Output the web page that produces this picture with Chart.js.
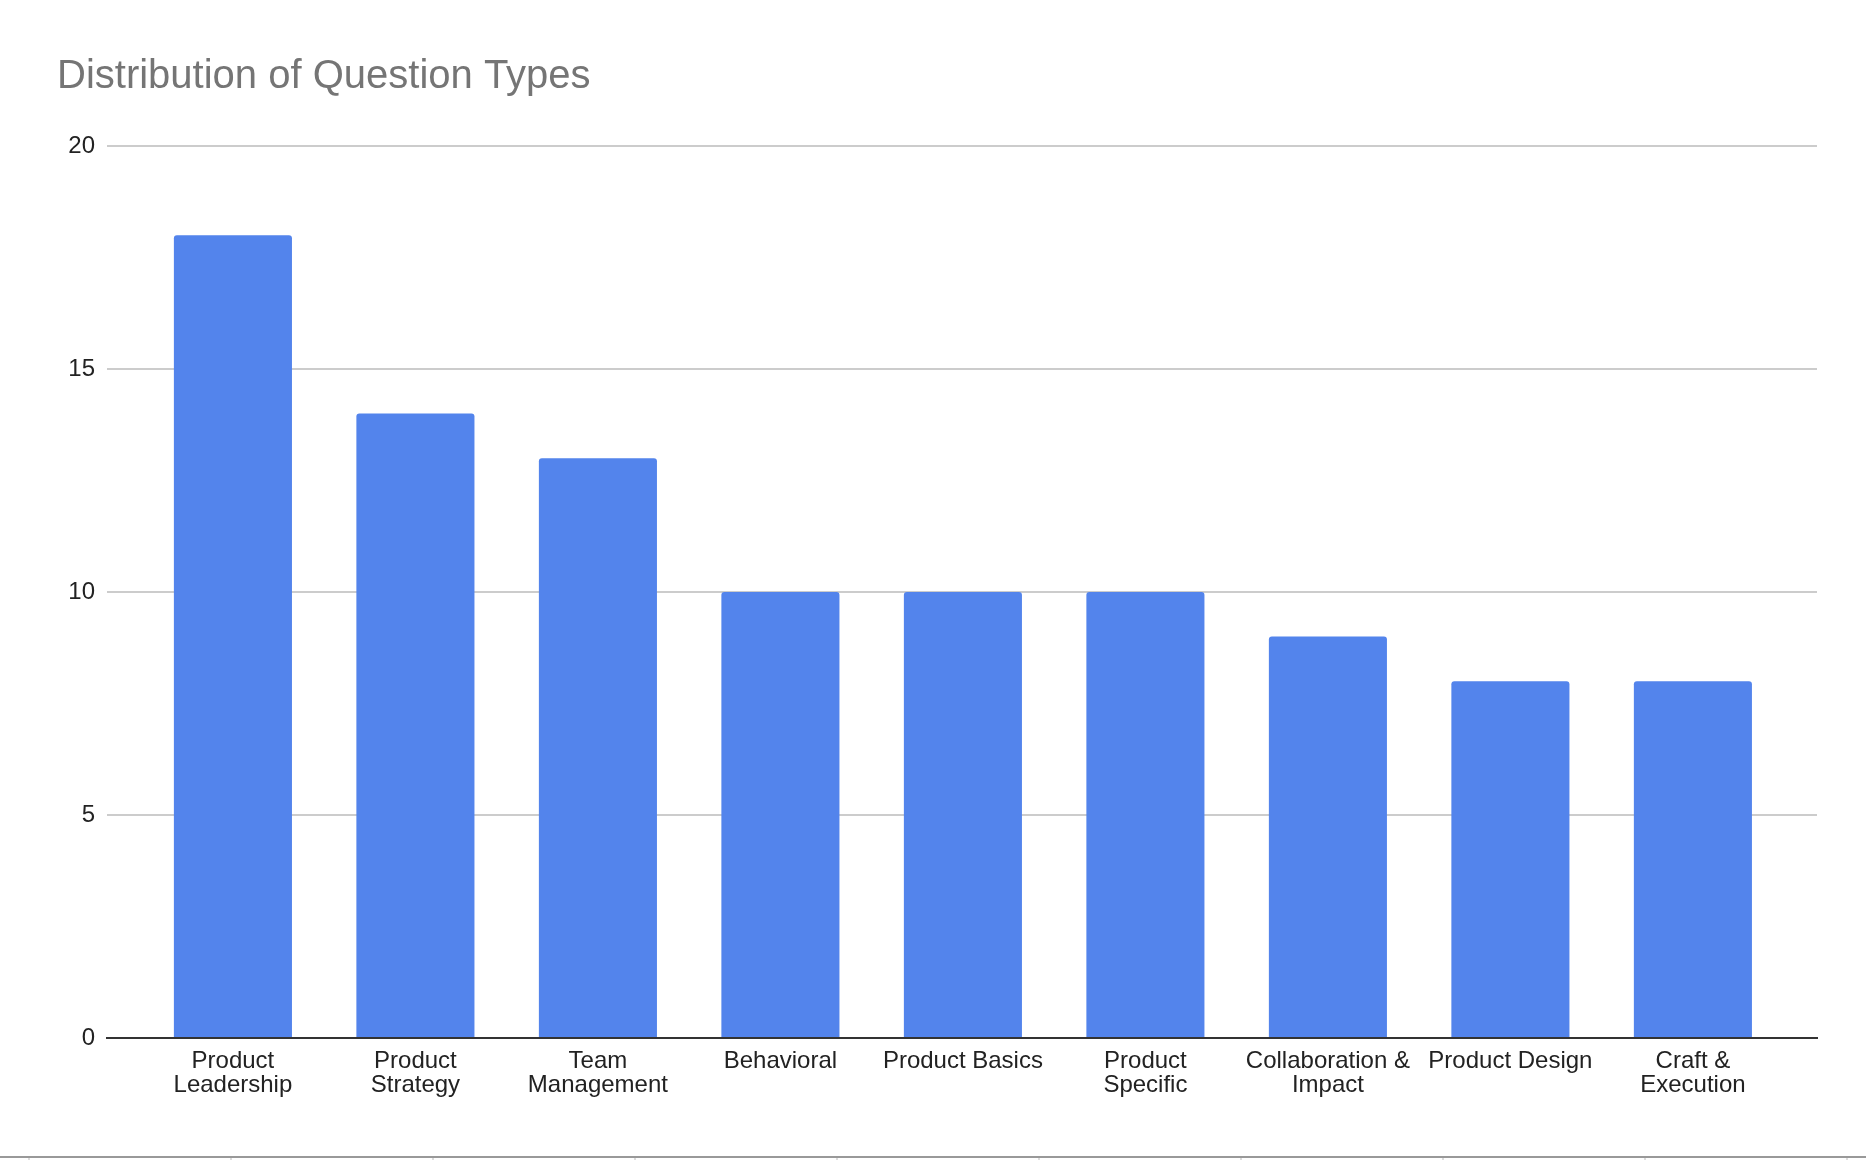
<!DOCTYPE html>
<html>
<head>
<meta charset="utf-8">
<title>Distribution of Question Types</title>
<script src="https://cdn.jsdelivr.net/npm/chart.js@4"></script>
<style>
    html, body { margin: 0; padding: 0; background: #fff; }
    #wrap { position: relative; width: 1866px; height: 1160px; overflow: hidden; }
    #sheet-edge {
        position: absolute; left: 0; top: 1156px; width: 1866px; height: 2px;
        background: #999;
    }
    #sheet-cols {
        position: absolute; left: 0; top: 1158px; width: 1866px; height: 2px;
        background-image: linear-gradient(to right, #ddd 0 2px, transparent 2px);
        background-size: 202px 2px;
        background-position: 28px 0;
        background-repeat: repeat-x;
    }
</style>
</head>
<body>
<div id="wrap">
    <canvas id="chart01"></canvas>
    <div id="sheet-edge"></div>
    <div id="sheet-cols"></div>
</div>
<script>
const categories = [
    'Product Leadership', 'Product Strategy', 'Team Management', 'Behavioral',
    'Product Basics', 'Product Specific', 'Collaboration & Impact',
    'Product Design', 'Craft & Execution'
];

// how the sheet wraps each category label
const tick_labels = [
    ['Product', 'Leadership'], ['Product', 'Strategy'], ['Team', 'Management'],
    ['Behavioral'], ['Product Basics'], ['Product', 'Specific'],
    ['Collaboration &', 'Impact'], ['Product Design'], ['Craft &', 'Execution']
];

const question_counts = [18, 14, 13, 10, 10, 10, 9, 8, 8];

const y_ticks = [0, 5, 10, 15, 20];

(function () {

    Chart.defaults.font.family = '"Liberation Sans", Arial, sans-serif';

    const questions = {
        label: 'Questions',
        data: question_counts.map((v, i) => ({x: i, y: v})),
        backgroundColor: '#5384ec',
        borderWidth: 0,
        borderRadius: {topLeft: 3, topRight: 3, bottomLeft: 0, bottomRight: 0},
        borderSkipped: 'start',
        categoryPercentage: 1.0,
        barPercentage: 0.647
    };

    const options = {
        responsive: true,
        maintainAspectRatio: false,
        animation: false,
        layout: {
            padding: {left: 57, right: 49, top: 0, bottom: 52}
        },
        plugins: {
            legend: {display: false},
            tooltip: {enabled: false},
            title: {
                display: true,
                text: 'Distribution of Question Types',
                align: 'start',
                color: '#757575',
                font: {size: 40, weight: 'normal', lineHeight: 1.2},
                padding: {top: 53, bottom: 45}
            }
        },
        scales: {
            x: {
                type: 'linear',
                offset: false,
                min: -0.69,
                max: 8.68,
                z: 1,
                afterBuildTicks(scale) {
                    scale.ticks = categories.map((c, i) => ({value: i}));
                },
                afterFit(scale) {
                    scale.height = 70;
                },
                grid: {display: false, drawTicks: false, offset: false},
                border: {display: true, color: '#333', width: 2},
                ticks: {
                    autoSkip: false,
                    maxRotation: 0,
                    padding: 12,
                    color: '#222',
                    font: {size: 24, lineHeight: 0.975},
                    callback: value => tick_labels[value]
                }
            },
            y: {
                min: y_ticks[0],
                max: y_ticks[y_ticks.length - 1],
                afterBuildTicks(scale) {
                    scale.ticks = y_ticks.map(v => ({value: v}));
                },
                afterFit(scale) {
                    scale.width = 50;
                },
                border: {display: false},
                grid: {
                    drawTicks: false,
                    lineWidth: 2,
                    color: ctx => ctx.tick && ctx.tick.value === 0 ? 'rgba(0,0,0,0)' : '#cccccc'
                },
                ticks: {
                    padding: 12,
                    color: '#222',
                    font: {size: 24}
                }
            }
        }
    };

    new Chart(
        document.getElementById('chart01'),
        {
            type: 'bar',
            data: {
                datasets: [questions]
            },
            options: options
        }
    );
})();
</script>
</body>
</html>
